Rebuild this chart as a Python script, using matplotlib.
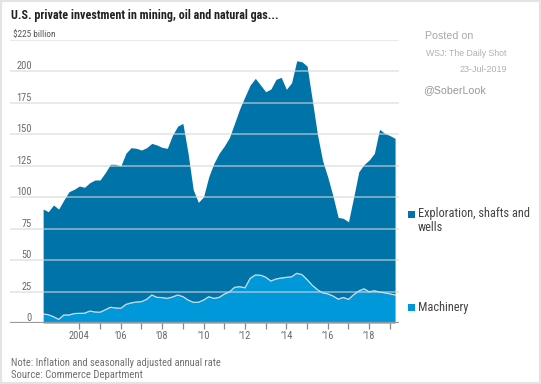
import matplotlib
matplotlib.use("Agg")
import matplotlib.pyplot as plt
from matplotlib import font_manager
from matplotlib.patches import Rectangle
import pandas as pd

# ---------------- data ----------------
quarters = pd.period_range("2002Q1", "2019Q1", freq="Q")

machinery = [7.2, 6.6, 5.0,
             2.9, 6.4, 6.4, 7.5,
             7.7, 7.8, 9.5, 8.8,
             8.6, 10.5, 12.5, 12.0,
             11.7, 14.8, 16.0, 16.7,
             17.0, 18.8, 22.3, 20.4,
             20.2, 19.6, 20.7, 22.3,
             21.0, 18.3, 16.5, 16.5,
             18.3, 20.9, 19.6, 20.4,
             23.0, 24.8, 28.4, 28.9,
             28.0, 35.5, 38.2, 38.0,
             36.5, 33.4, 35.0, 35.8,
             36.3, 36.8, 39.5, 38.5,
             34.5, 30.0, 26.5, 24.0,
             23.2, 21.5, 19.0, 20.3,
             18.8, 22.5, 25.5, 27.2,
             24.8, 25.7, 24.6, 24.0,
             23.2, 22.3]

exploration = [83.4, 81.9, 88.8,
               87.7, 91.4, 98.0, 98.8,
               101.2, 100.1, 102.0, 104.9,
               105.1, 109.0, 113.7, 114.2,
               113.1, 120.2, 123.4, 122.2,
               120.5, 120.6, 120.5, 121.1,
               119.4, 119.3, 128.7, 134.2,
               137.7, 116.7, 89.5, 79.4,
               82.1, 95.4, 107.4, 114.5,
               117.7, 122.7, 130.6, 141.6,
               152.0, 153.7, 156.3, 151.2,
               147.4, 152.6, 158.7, 159.5,
               149.5, 154.2, 169.0, 169.2,
               169.8, 147.3, 123.5, 105.0,
               92.8, 79.5, 65.0, 62.9,
               61.7, 77.5, 94.8, 98.8,
               104.8, 109.2, 129.4, 126.8,
               125.8, 124.5]

series_names = ["Exploration, shafts and", "wells", "Machinery"]
y_ticks = [0, 25, 50, 75, 100, 125, 150, 175, 200]
y_top_label = "$225 billion"
x_tick_years = list(range(2004, 2020))
x_label_years = [2004, 2006, 2008, 2010, 2012, 2014, 2016, 2018]
x_labels = ["2004", "\u201906", "\u201908", "\u201910", "\u201912", "\u201914", "\u201916", "\u201918"]

title = "U.S. private investment in mining, oil and natural gas..."
note1 = "Note: Inflation and seasonally adjusted annual rate"
note2 = "Source: Commerce Department"

# ---------------- fonts ----------------
fl = font_manager.fontManager.ttflist
names = {f.name for f in fl}
NARROW = None
NSTRETCH = "normal"
for cand in ["Liberation Sans Narrow", "Roboto Condensed", "Open Sans Condensed"]:
    if cand in names:
        NARROW = cand
        break
if NARROW is None:
    if any(f.name == "DejaVu Sans" and str(f.stretch) in ("condensed", "semi-condensed") for f in fl):
        NARROW, NSTRETCH = "DejaVu Sans", "condensed"
    elif "Roboto" in names:
        NARROW = "Roboto"
    else:
        NARROW = "Liberation Sans"
REG = "Liberation Sans"

DARK = "#0073a8"
LIGHT = "#0098d8"

W, H = 541, 384
fig = plt.figure(figsize=(W / 100, H / 100), dpi=100)
fig.patch.set_facecolor("white")


def fx(px):
    return px / W


def fy(py):
    return 1 - py / H


def ntext(xp, yp, s, **kw):
    kw.setdefault("family", NARROW)
    kw.setdefault("stretch", NSTRETCH)
    return fig.text(fx(xp), fy(yp), s, **kw)


ax = fig.add_axes([fx(10), fy(323), fx(399) - fx(10), fy(40) - fy(323)])
x = [q.year + q.quarter / 4.0 for q in quarters]
top = [m + e for m, e in zip(machinery, exploration)]
ax.fill_between(x, 0, machinery, color=LIGHT, lw=0, zorder=2)
ax.fill_between(x, machinery, top, color=DARK, lw=0, zorder=2)
ax.plot(x, machinery, color="white", lw=0.9, alpha=0.75, zorder=3)

ax.set_xlim(2000.65, 2019.44)
ax.set_ylim(0, 225)
for v in y_ticks[1:] + [225]:
    ax.axhline(v, color="#d8d8d8", lw=1.1, alpha=0.7, zorder=4)
ax.axhline(0, color="#9a9a9a", lw=1.6, zorder=5)
for s in ax.spines.values():
    s.set_visible(False)
ax.set_facecolor("none")
ax.set_yticks([])
ax.set_xticks(x_tick_years)
ax.set_xticklabels([""] * len(x_tick_years))
ax.tick_params(axis="x", length=4, width=0.9, color="#8a8a8a", pad=2)
xl_tr = matplotlib.transforms.blended_transform_factory(ax.transData, fig.transFigure)
for yr, lab in zip(x_label_years, x_labels):
    ax.text(yr, fy(336), lab, transform=xl_tr, ha="center", va="center",
            fontsize=7.5, color="#6a6a6a", family=NARROW, stretch=NSTRETCH)

# y labels (right aligned at x=32, just above gridline)
for v in y_ticks:
    ypix = 323 - v * (283 / 225.0)
    ntext(32, ypix - 5, str(v), ha="right", va="center", fontsize=7.5, color="#6a6a6a")
t225 = ntext(13, 35, y_top_label, ha="left", va="center", fontsize=7, color="#555555")

# title and notes
fits = []
t_title = ntext(11, 15.5, title, ha="left", va="center", fontsize=9,
                fontweight="bold", color="#222222")
fits.append((t_title, 268, 9.5))
t_n1 = ntext(11, 362.8, note1, ha="left", va="center", fontsize=7.5, color="#707070")
fits.append((t_n1, 210, 8))
t_n2 = ntext(11, 375.2, note2, ha="left", va="center", fontsize=7.5, color="#707070")
fits.append((t_n2, 131, 8))
fits.append((t225, 43, 7))

# posted-on block
t_p = fig.text(fx(425), fy(36), "Posted on", ha="left", va="center", fontsize=8,
               color="#a8a8a8", family=REG)
fits.append((t_p, 48, 9))
t_w = fig.text(fx(426), fy(53), "WSJ: The Daily Shot", ha="left", va="center", fontsize=6.5,
               color="#b0b0b0", family=REG)
fits.append((t_w, 81, 8))
t_d = fig.text(fx(507), fy(69), "23-Jul-2019", ha="right", va="center", fontsize=6.5,
               color="#b0b0b0", family=REG)
fits.append((t_d, 47, 8))
t_s = fig.text(fx(423), fy(90), "@SoberLook", ha="left", va="center", fontsize=8,
               color="#999999", family=REG)
fits.append((t_s, 63, 9))

# legend
for col, yc in [(DARK, 214), (LIGHT, 307)]:
    fig.patches.append(Rectangle((fx(408), fy(yc + 3.5)), 7 / W, 7 / H, transform=fig.transFigure,
                                 facecolor=col, edgecolor="none", figure=fig))
t_e = ntext(418, 214, series_names[0], ha="left", va="center", fontsize=8.5, color="#444444")
fits.append((t_e, 111, 9))
t_e2 = ntext(418, 227.5, series_names[1], ha="left", va="center", fontsize=8.5, color="#444444")
t_m = ntext(418, 307, series_names[2], ha="left", va="center", fontsize=8.5, color="#444444")

# border
fig.patches.append(Rectangle((0, 0), 1, 1, transform=fig.transFigure, fill=False,
                             edgecolor="#e3e3e3", lw=3, figure=fig))

# fit widths of key texts to the reference (capped size)
fig.canvas.draw()
r = fig.canvas.get_renderer()
for t, wpx, cap in fits:
    bb = t.get_window_extent(r)
    t.set_fontsize(min(cap, t.get_fontsize() * wpx / bb.width))
t_e2.set_fontsize(t_e.get_fontsize())
t_m.set_fontsize(t_e.get_fontsize())

fig.savefig("out.png", dpi=100)
